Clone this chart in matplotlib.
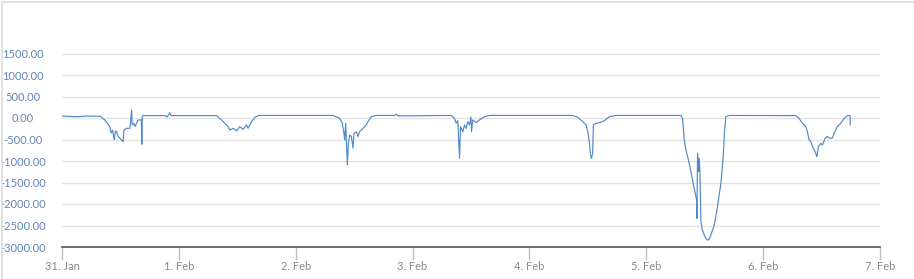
import matplotlib
matplotlib.use("Agg")
import matplotlib.pyplot as plt
from matplotlib.lines import Line2D
import numpy as np

plt.rcParams['font.family'] = ['Lato', 'DejaVu Sans']

# hours since 31 Jan 00:00
hours = [0, 3.0, 5.0, 7.8, 8.8, 9.8, 10.1, 10.4, 10.73, 11.0, 11.22, 11.55, 12.25, 12.57, 12.72,
         13.27, 13.95, 14.30, 14.42, 14.77, 14.97, 15.65, 16.3, 16.4, 16.5,
         21.3, 21.48, 21.8, 22.15, 22.4, 31.73, 32.76, 33.44, 34.11, 34.46, 35.14,
         35.84, 36.51, 37.19, 37.89, 38.22, 38.91, 39.59, 40.41,
         55.65, 57.03, 57.58, 57.91, 58.05, 58.26, 58.61, 58.81, 59.08, 59.43,
         59.76, 59.96, 60.45, 60.78, 61.13, 61.81, 62.50, 62.83, 63.53, 64.55,
         66.61, 68.3, 68.66, 69.0, 69.33, 71.39, 79.94, 80.62, 80.97, 81.29,
         81.64, 81.85, 82.32, 82.67, 83.02, 83.34, 83.69, 84.0, 84.1, 84.37,
         85.07, 85.74, 86.77, 87.80, 104.88, 105.91, 106.93, 107.6, 107.96, 108.31,
         108.51, 108.72, 108.99, 109.13, 109.68, 110.36, 111.39, 112.41, 113.78,
         127.12, 127.45, 127.80, 128.14, 128.82, 129.50, 130.05, 130.32, 130.40,
         130.53, 130.73, 130.87, 131.02, 131.22, 131.5, 131.90, 132.25, 132.58, 132.9,
         133.27, 133.95, 134.63, 135.32, 135.80, 136.07, 136.35, 137.03, 150.71,
         151.38, 152.07, 152.76, 153.09, 153.44, 153.79, 154.12, 154.67, 155.02,
         155.35, 155.84, 156.17, 156.72, 157.19, 157.68, 158.22, 158.57, 159.24,
         159.94, 160.62, 161.30, 161.85, 161.9]
values = [45, 30, 45, 40, -45, -200, -350, -280, -510, -300, -320, -430, -510, -550, -280,
          -240, -240, 185, -160, -125, -200, -45, -45, -610, 55,
          55, 20, 55, 125, 55, 55, -45, -125, -200, -280, -240,
          -300, -200, -265, -160, -240, -85, 15, 60,
          60, -10, -125, -360, -510, -125, -1090, -590, -395, -430,
          -700, -360, -320, -430, -320, -240, -160, -85, 30, 60,
          60, 60, 90, 50, 50, 50, 60, -10, -125, -60,
          -940, -200, -320, -160, -240, -85, -160, 20, -320, -45,
          -110, -45, 30, 60, 60, 15, -85, -160, -300, -560,
          -820, -940, -820, -160, -125, -110, -60, 30, 60,
          60, -10, -510, -745, -1055, -1440, -1750, -1905, -2335,
          -820, -1250, -940, -1250, -2400, -2600, -2720, -2800, -2840, -2820,
          -2720, -2490, -2060, -1520, -900, -280, 30, 60, 55,
          -10, -125, -200, -320, -510, -550, -665, -780, -900,
          -665, -590, -630, -470, -430, -470, -470, -360, -200,
          -125, -10, 55, 55, -160]

day_labels = ['31. Jan', '1. Feb', '2. Feb', '3. Feb', '4. Feb', '5. Feb', '6. Feb', '7. Feb']
y_ticks = [-3000, -2500, -2000, -1500, -1000, -500, 0, 500, 1000, 1500]

W, H = 914, 279
fig = plt.figure(figsize=(W / 100, H / 100), dpi=100)
ax = fig.add_axes([62 / W, (H - 247) / H, (880 - 62) / W, (247 - 40.6) / H])

ax.plot(np.array(hours) / 24.0, values, color='#5089c8', linewidth=0.85)

ax.set_xlim(0, 7)
ax.set_ylim(-3000, 1800)
ax.set_xticks(range(8))
ax.set_xticklabels(day_labels, fontsize=8, color='#8a8a8a')
ax.set_yticks(y_ticks)
ax.set_yticklabels(['%.2f' % v for v in y_ticks], fontsize=8, color='#5f84b5', ha='center')
ax.tick_params(axis='y', length=0, pad=28)
ax.tick_params(axis='x', length=9, width=1, color='#c0c0c0', pad=1)
ax.grid(axis='y', color='#e3e3e3', linewidth=1)
ax.set_axisbelow(True)
for s in ['top', 'right', 'left']:
    ax.spines[s].set_visible(False)
ax.spines['bottom'].set_color('#555555')
ax.spines['bottom'].set_linewidth(1.2)

# outer frame (top and left edges)
fig.add_artist(Line2D([2 / W, 1], [1 - 2 / H, 1 - 2 / H], color='#dcdcdc', linewidth=1.2))
fig.add_artist(Line2D([2 / W, 2 / W], [0, 1 - 2 / H], color='#dcdcdc', linewidth=1.2))

fig.savefig('out.png', dpi=100)
